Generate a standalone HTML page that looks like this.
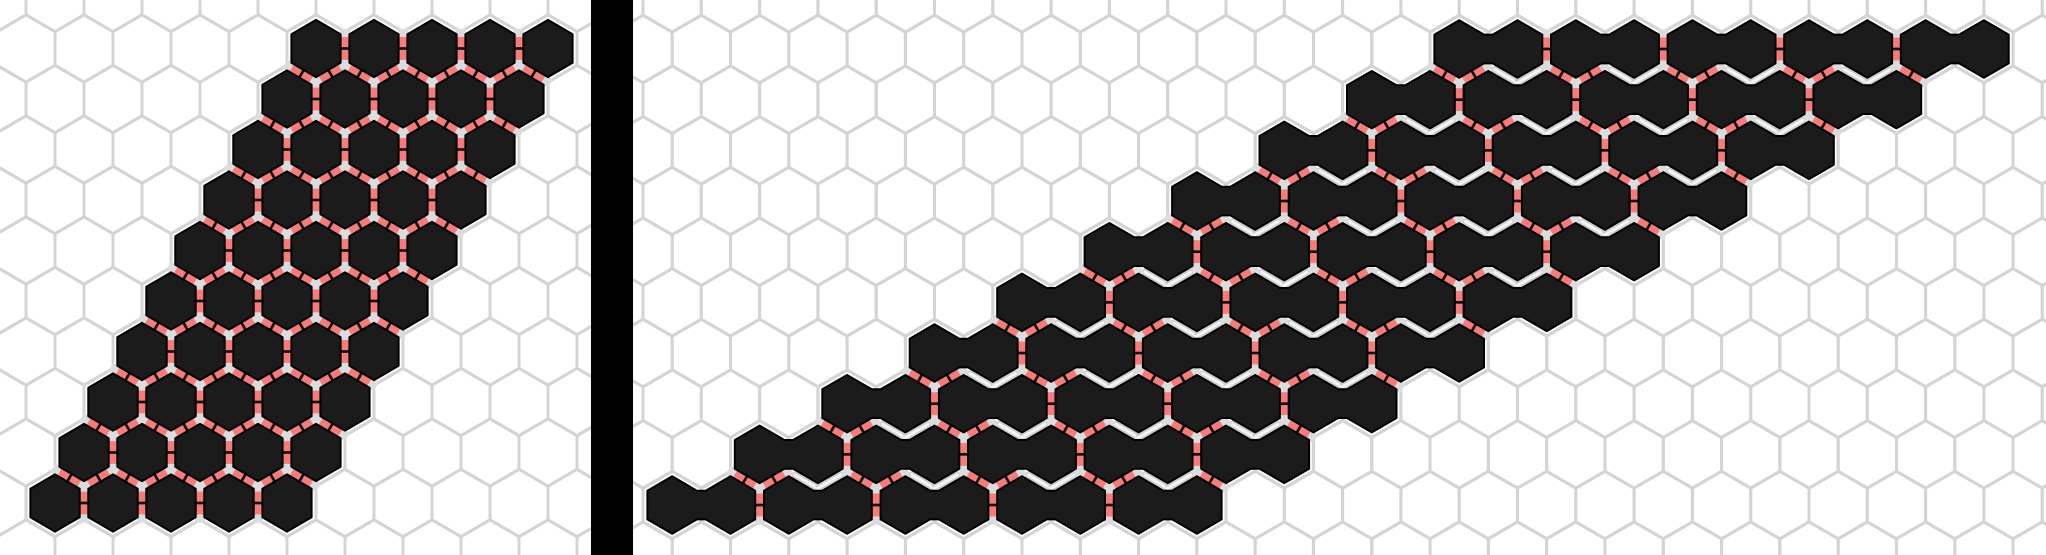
<!DOCTYPE html>
<html><head><meta charset="utf-8"><style>
html,body{margin:0;padding:0;background:#fff;width:2046px;height:555px;overflow:hidden;}
svg{display:block;}
</style></head><body>
<svg id="chart" width="2046" height="555" viewBox="0 0 2046 555" xmlns="http://www.w3.org/2000/svg">
<defs>
<clipPath id="clipL"><rect x="0" y="0" width="591" height="555"/></clipPath>
<clipPath id="clipR"><rect x="633" y="0" width="1413" height="555"/></clipPath>
</defs>
<rect x="0" y="0" width="2046" height="555" fill="#ffffff"/>
<g id="left" clip-path="url(#clipL)"></g>
<g id="right" clip-path="url(#clipR)"></g>
<rect x="591" y="0" width="42" height="555" fill="#000"/>
</svg>
<script>
// Left panel: monomer hex cells; right panel: dimer cells
const leftRowStarts = [0,0,0,0,0,0,0,0,0,0];
const leftRowLengths = [5,5,5,5,5,5,5,5,5,5];
const rightRowStarts = [0,-1,-2,-3,-4,-5,-6,-7,-8,-9];
const rightRowLengths = [10,10,10,10,10,10,10,10,10,10];

const NS = "http://www.w3.org/2000/svg";
const PINK = "#f77b79", GRID = "#d4d4d4", BLACK = "#1b1b1b";

function mk(tag, attrs, parent){
  const e = document.createElementNS(NS, tag);
  for (const k in attrs) e.setAttribute(k, attrs[k]);
  parent.appendChild(e);
  return e;
}

function makePanel(g, cfg, rowStarts, rowLengths, dimer){
  const dx = cfg.dx, dy = cfg.dy, h = dy*2/3, hs = dy/3, w = dx/2;
  const cx = (r,c) => cfg.baseX + c*dx - r*dx/2;
  const cy = r => cfg.baseY + r*dy;
  const occ = new Set();
  rowStarts.forEach((s,r)=>{ for(let i=0;i<rowLengths[r];i++) occ.add(r+","+(s+i)); });
  const has = (r,c)=>occ.has(r+","+c);
  const hexPts = (x,y,s)=>[[x,y-h*s],[x+w*s,y-hs*s],[x+w*s,y+hs*s],[x,y+h*s],[x-w*s,y+hs*s],[x-w*s,y-hs*s]];
  const ptsStr = a=>a.map(p=>p[0].toFixed(1)+","+p[1].toFixed(1)).join(" ");

  const grid = mk("g",{},g);
  
  
  for(let r=-1;r<=11;r++){
    for(let c=-40;c<=50;c++){
      const x=cx(r,c), y=cy(r);
      if(x<cfg.xmin-dx||x>cfg.xmax+dx) continue;
      const p = mk("polygon",{points:ptsStr(hexPts(x,y,1)),fill:"none",stroke:GRID,"stroke-width":3},grid);
      
      
    }
  }

  const edges = mk("g",{},g);
  
  
  function seg(x1,y1,x2,y2,t0,t1,color,wd,parent){
    return mk("line",{x1:x1+(x2-x1)*t0,y1:y1+(y2-y1)*t0,x2:x1+(x2-x1)*t1,y2:y1+(y2-y1)*t1,stroke:color,"stroke-width":wd,"stroke-linecap":"butt"},parent);
  }
  function pinkEdge(x1,y1,x2,y2){
    const e = mk("g",{},edges);
    
    
    seg(x1,y1,x2,y2,-0.08,1.08,"#dcdcdc",10,e);
    seg(x1,y1,x2,y2,0.16,0.84,PINK,10,e);
    seg(x1,y1,x2,y2,0.46,0.54,"#111",10,e);
  }
  function greyEdge(x1,y1,x2,y2){
    const e = mk("g",{},edges);
    
    
    seg(x1,y1,x2,y2,0.15,1.03,"#cdcdcd",10,e);
    seg(x1,y1,x2,y2,0.18,1.03,"#f4f4f4",3,e);
  }
  const dStart = r => rowStarts[r];
  rowStarts.forEach((s,r)=>{
    for(let i=0;i<rowLengths[r];i++){
      const c=s+i, x=cx(r,c), y=cy(r);
      if(has(r,c+1)){
        const internal = dimer && ((c-dStart(r))%2===0);
        if(!internal) pinkEdge(x+w,y-hs,x+w,y+hs);
      }
      if(r+1<rowStarts.length){
        let pink = true;
        if(dimer){ pink = (((c-dStart(r+1))%2)+2)%2===1; }
        if(has(r+1,c)) (pink?pinkEdge:greyEdge)(x-w,y+hs,x,y+h);
        if(has(r+1,c+1)) (pink?pinkEdge:greyEdge)(x+w,y+hs,x,y+h);
      }
    }
  });

  const cells = mk("g",{},g);
  
  
  const s=0.85;
  rowStarts.forEach((st,r)=>{
    const y=cy(r);
    if(!dimer){
      for(let i=0;i<rowLengths[r];i++){
        const p = mk("polygon",{points:ptsStr(hexPts(cx(r,st+i),y,s)),fill:BLACK,stroke:"#000","stroke-width":2,"stroke-linejoin":"round"},cells);
        
        
      }
    } else {
      for(let i=0;i+1<rowLengths[r];i+=2){
        const a=hexPts(cx(r,st+i),y,s), b=hexPts(cx(r,st+i+1),y,s);
        const pts=[a[5],a[0],a[1],b[5],b[0],b[1],b[2],b[3],b[4],a[2],a[3],a[4]];
        const p = mk("polygon",{points:ptsStr(pts),fill:BLACK,stroke:"#000","stroke-width":2,"stroke-linejoin":"round"},cells);
        
        
      }
    }
  });
}

makePanel(document.getElementById("left"),{dx:58,dy:50.5,baseX:316,baseY:48.5,xmin:0,xmax:591},leftRowStarts,leftRowLengths,false);
makePanel(document.getElementById("right"),{dx:58.3,dy:50.67,baseX:1459.2,baseY:49,xmin:633,xmax:2046},rightRowStarts,rightRowLengths,true);
</script>
</body></html>
